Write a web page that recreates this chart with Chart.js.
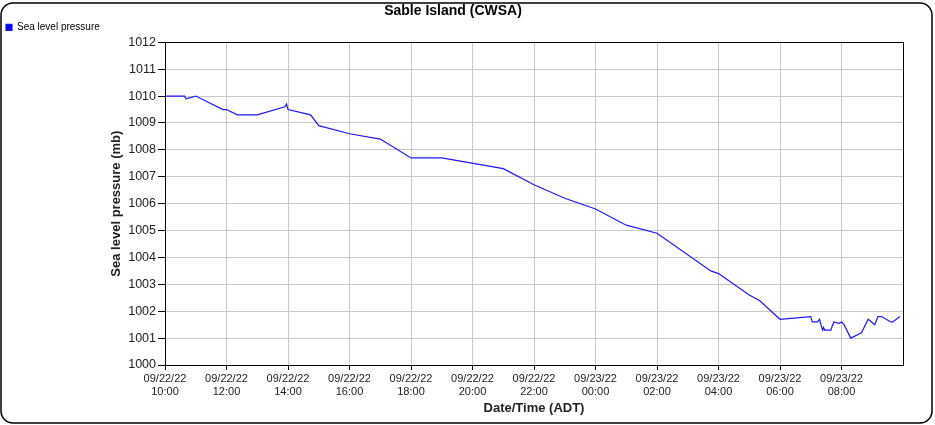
<!DOCTYPE html>
<html>
<head>
<meta charset="utf-8">
<script src="https://cdn.jsdelivr.net/npm/chart.js@4"></script>
<style>
  html, body { margin: 0; padding: 0; background: #fff; }
  #wrap { width: 935px; height: 425px; position: relative; }
</style>
</head>
<body>
<div id="wrap"><canvas id="pressureChart" width="935" height="425"></canvas></div>
<script>
// observation times (ADT) and sea level pressure (mb)
const obsTimes = [
  '2022-09-22T10:00', '2022-09-22T10:38', '2022-09-22T10:41', '2022-09-22T11:00',
  '2022-09-22T11:53', '2022-09-22T12:00', '2022-09-22T12:21', '2022-09-22T13:00',
  '2022-09-22T13:54', '2022-09-22T13:57', '2022-09-22T14:00', '2022-09-22T14:44',
  '2022-09-22T15:00', '2022-09-22T16:00', '2022-09-22T17:00', '2022-09-22T18:00',
  '2022-09-22T19:00', '2022-09-22T21:00', '2022-09-22T22:00', '2022-09-22T23:00',
  '2022-09-23T00:00', '2022-09-23T01:00', '2022-09-23T02:00', '2022-09-23T03:45',
  '2022-09-23T04:00', '2022-09-23T05:00', '2022-09-23T05:20', '2022-09-23T06:00',
  '2022-09-23T07:00', '2022-09-23T07:03', '2022-09-23T07:13', '2022-09-23T07:17',
  '2022-09-23T07:23', '2022-09-23T07:25', '2022-09-23T07:27', '2022-09-23T07:39',
  '2022-09-23T07:45', '2022-09-23T07:55', '2022-09-23T08:00', '2022-09-23T08:05',
  '2022-09-23T08:18', '2022-09-23T08:39', '2022-09-23T08:52', '2022-09-23T09:05',
  '2022-09-23T09:11', '2022-09-23T09:18', '2022-09-23T09:36', '2022-09-23T09:40',
  '2022-09-23T09:54'
];
const seaLevelPressure = [
  1010.0, 1010.0, 1009.9, 1010.0,
  1009.5, 1009.5, 1009.3, 1009.3,
  1009.6, 1009.7, 1009.5, 1009.3,
  1008.9, 1008.6, 1008.4, 1007.7,
  1007.7, 1007.3, 1006.7, 1006.2,
  1005.8, 1005.2, 1004.9, 1003.5,
  1003.4, 1002.6, 1002.4, 1001.7,
  1001.8, 1001.6, 1001.6, 1001.7,
  1001.3, 1001.4, 1001.3, 1001.3,
  1001.6, 1001.55, 1001.6, 1001.5,
  1001.0, 1001.2, 1001.7, 1001.5,
  1001.8, 1001.8, 1001.6, 1001.6,
  1001.8
];
// x tick labels, one every 2 hours from the start time
const xTickLabels = [
  ['09/22/22', '10:00'], ['09/22/22', '12:00'], ['09/22/22', '14:00'],
  ['09/22/22', '16:00'], ['09/22/22', '18:00'], ['09/22/22', '20:00'],
  ['09/22/22', '22:00'], ['09/23/22', '00:00'], ['09/23/22', '02:00'],
  ['09/23/22', '04:00'], ['09/23/22', '06:00'], ['09/23/22', '08:00']
];
const yTicks = [1000, 1001, 1002, 1003, 1004, 1005, 1006, 1007, 1008, 1009, 1010, 1011, 1012];

const startTime = new Date(obsTimes[0]).getTime();
const points = obsTimes.map((t, i) => ({
  x: (new Date(t).getTime() - startTime) / 3600000,
  y: seaLevelPressure[i]
}));

// rounded outer frame + full box round the plot area
const framePlugin = {
  id: 'frame',
  beforeDraw(chart) {
    const ctx = chart.ctx;
    ctx.save();
    ctx.fillStyle = '#fff';
    ctx.fillRect(0, 0, chart.width, chart.height);
    ctx.beginPath();
    ctx.roundRect(1, 3, 931, 420, 12);
    ctx.lineWidth = 1.5;
    ctx.strokeStyle = '#000';
    ctx.stroke();
    ctx.restore();
  },
  afterDraw(chart) {
    const {ctx, chartArea: a} = chart;
    ctx.save();
    ctx.strokeStyle = '#000';
    ctx.lineWidth = 1;
    ctx.strokeRect(Math.round(a.left) + 0.5, Math.round(a.top) + 0.5,
      Math.round(a.right - a.left), Math.round(a.bottom - a.top));
    ctx.restore();
  }
};

const ctx = document.getElementById('pressureChart').getContext('2d');
new Chart(ctx, {
  type: 'line',
  data: {
    datasets: [{
      label: 'Sea level pressure',
      data: points,
      xAxisID: 'x',
      yAxisID: 'y',
      borderColor: '#1a1aff',
      backgroundColor: '#0000ff',
      borderWidth: 1.2,
      pointRadius: 0,
      tension: 0,
      fill: false
    }]
  },
  options: {
    responsive: false,
    animation: false,
    layout: { padding: { left: 3, right: 32, top: 0, bottom: 4 } },
    plugins: {
      title: {
        display: true,
        text: 'Sable Island (CWSA)',
        color: '#000',
        font: { family: 'Liberation Sans, Arial', size: 14, weight: 'bold' },
        padding: { top: 2.5, bottom: 0 }
      },
      legend: {
        display: true,
        align: 'start',
        labels: {
          boxWidth: 6,
          boxHeight: 6,
          padding: 3,
          color: '#000',
          font: { family: 'Liberation Sans, Arial', size: 10 }
        }
      },
      tooltip: { enabled: false }
    },
    scales: {
      x: {
        type: 'linear',
        position: 'bottom',
        min: 0,
        max: 24,
        afterBuildTicks: s => {
          s.ticks = [];
          for (let v = 0; v <= 24; v += 2) s.ticks.push({ value: v });
        },
        afterFit: s => { s.height = 56; },
        grid: {
          color: '#c8c8c8',
          lineWidth: 1,
          tickColor: c => (c.tick && c.tick.value === 24 ? 'rgba(0,0,0,0)' : '#000'),
          tickLength: 5
        },
        border: { color: '#000', width: 1 },
        ticks: {
          autoSkip: false,
          maxRotation: 0,
          padding: 2,
          color: '#222',
          font: { family: 'Liberation Sans, Arial', size: 11 },
          callback: v => xTickLabels[v / 2] || ''
        },
        title: {
          display: true,
          text: 'Date/Time (ADT)',
          color: '#222',
          font: { family: 'Liberation Sans, Arial', size: 13, weight: 'bold' },
          padding: { top: 4, bottom: 5 }
        }
      },
      y: {
        type: 'linear',
        min: 1000,
        max: 1012,
        afterBuildTicks: s => { s.ticks = yTicks.map(v => ({ value: v })); },
        afterFit: s => { s.width = 162; },
        grid: { color: '#c8c8c8', lineWidth: 1, tickColor: '#000', tickLength: 7 },
        border: { color: '#000', width: 1 },
        ticks: {
          padding: 2,
          color: '#222',
          font: { family: 'Liberation Sans, Arial', size: 12.5 },
          callback: v => String(v)
        },
        title: {
          display: true,
          text: 'Sea level pressure (mb)',
          color: '#222',
          font: { family: 'Liberation Sans, Arial', size: 13, weight: 'bold' },
          padding: { top: 106, bottom: 4 }
        }
      }
    }
  },
  plugins: [framePlugin]
});
</script>
</body>
</html>
